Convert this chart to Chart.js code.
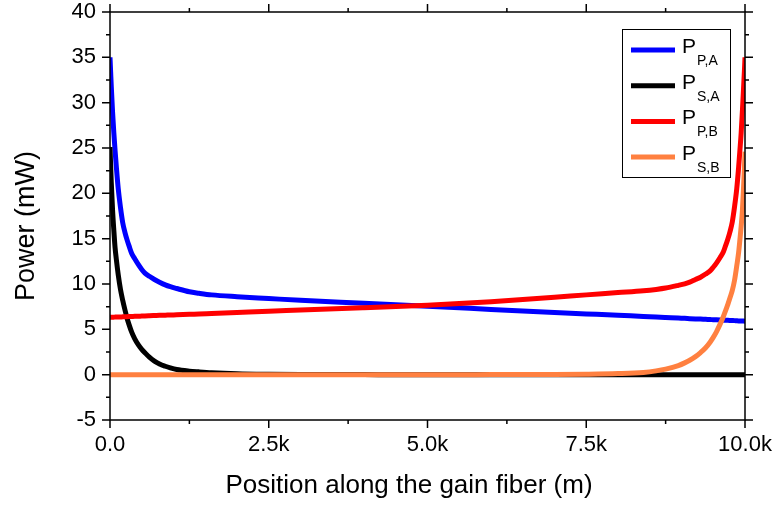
<html>
<body style="margin:0;background:#fff">
<script src="https://cdn.jsdelivr.net/npm/chart.js@4/dist/chart.umd.min.js"></script>
<canvas id="myChart" width="777" height="510"></canvas>
<script>
// positions along the fiber (m), dense at both ends
let pos = [0, 10, 20, 40, 60, 80, 100, 130, 165, 200,
           235, 270, 300, 340, 390, 450, 500, 550, 620, 700,
           780, 870, 950, 1050, 1250, 1400, 1600, 2000, 2500, 3000,
           4000, 5000, 6000, 7000, 7500, 8000, 8400, 8600, 8750, 8950,
           9050, 9130, 9220, 9300, 9380, 9450, 9500, 9550, 9610, 9660,
           9700, 9730, 9765, 9800, 9835, 9870, 9900, 9920, 9940, 9960,
           9980, 9990, 10000];
let ppA = [35, 33.4, 31.8, 29.0, 26.7, 24.7, 22.9, 20.5, 18.45, 16.77,
           15.7, 14.84, 14.2, 13.4, 12.78, 12.1, 11.6, 11.2, 10.85, 10.5,
           10.2, 9.9, 9.7, 9.5, 9.14, 8.98, 8.8, 8.6, 8.4, 8.2,
           7.88, 7.55, 7.2, 6.85, 6.7, 6.55, 6.42, 6.36, 6.31, 6.24,
           6.21, 6.18, 6.15, 6.13, 6.1, 6.08, 6.06, 6.05, 6.03, 6.01,
           6.0, 5.99, 5.98, 5.97, 5.96, 5.94, 5.93, 5.93, 5.92, 5.91,
           5.91, 5.9, 5.9];
let psA = [25.1, 23.1, 21.2, 18.2, 15.95, 14.0, 12.7, 11.0, 9.4, 8.2,
           7.16, 6.2, 5.52, 4.72, 3.95, 3.25, 2.8, 2.42, 1.93, 1.5,
           1.18, 0.93, 0.75, 0.57, 0.39, 0.31, 0.22, 0.11, 0.05, 0.02,
           0.005, 0, 0, 0, 0, 0, 0, 0, 0, 0,
           0, 0, 0, 0, 0, 0, 0, 0, 0, 0,
           0, 0, 0, 0, 0, 0, 0, 0, 0, 0,
           0, 0, 0];
let ppB = [6.33, 6.33, 6.33, 6.34, 6.34, 6.35, 6.35, 6.36, 6.36, 6.38,
           6.39, 6.4, 6.41, 6.42, 6.43, 6.45, 6.46, 6.48, 6.5, 6.52,
           6.54, 6.56, 6.58, 6.6, 6.65, 6.7, 6.75, 6.86, 7.0, 7.12,
           7.38, 7.65, 8.05, 8.55, 8.8, 9.05, 9.25, 9.4, 9.55, 9.85,
           10.02, 10.2, 10.5, 10.75, 11.1, 11.45, 11.85, 12.3, 12.95, 13.55,
           14.35, 14.95, 15.8, 16.85, 18.5, 20.5, 22.9, 24.75, 26.7, 29.2,
           32.0, 33.4, 35];
let psB = [0, 0, 0, 0, 0, 0, 0, 0, 0, 0,
           0, 0, 0, 0, 0, 0, 0, 0, 0, 0,
           0, 0, 0, 0, 0, 0, 0, 0, 0, 0,
           0, 0, 0.005, 0.02, 0.05, 0.12, 0.25, 0.42, 0.61, 1.0,
           1.3, 1.59, 1.99, 2.44, 2.97, 3.58, 4.11, 4.73, 5.6, 6.42,
           7.17, 7.75, 8.5, 9.3, 10.4, 12.0, 13.5, 14.9, 16.4, 18.2,
           21.1, 22.7, 24.6];
let subs = ['P,A', 'S,A', 'P,B', 'S,B'];
let colors = ['#0000ff', '#000000', '#ff0000', '#ff8040'];
let xTitle = 'Position along the gain fiber (m)';
let yTitle = 'Power (mW)';
let xMin = 0, xMax = 10000, xStep = 2500;
let yMin = -5, yMax = 40, yStep = 5;

const FONT = '"Liberation Sans", Arial, sans-serif';

function pts(vals) {
    return vals.map((v, i) => ({x: pos[i], y: v}));
}

const frame = {
    id: 'frame',
    afterDraw(chart) {
        const ctx = chart.ctx, a = chart.chartArea;
        const xs = chart.scales.x, ys = chart.scales.y;
        ctx.save();
        ctx.strokeStyle = '#000';
        ctx.lineWidth = 1.5;
        ctx.strokeRect(a.left, a.top, a.right - a.left, a.bottom - a.top);
        ctx.beginPath();
        for (let v = yMin; v <= yMax; v += yStep / 2) {
            const p = ys.getPixelForValue(v);
            const len = (v % yStep === 0) ? 8 : 4;
            ctx.moveTo(a.left - len, p); ctx.lineTo(a.left, p);
            ctx.moveTo(a.right, p); ctx.lineTo(a.right + len, p);
        }
        for (let v = xMin; v <= xMax; v += xStep / 2) {
            const p = xs.getPixelForValue(v);
            const len = (v % xStep === 0) ? 8 : 4;
            ctx.moveTo(p, a.bottom); ctx.lineTo(p, a.bottom + len);
            ctx.moveTo(p, a.top - len); ctx.lineTo(p, a.top);
        }
        ctx.stroke();

        // axis titles
        ctx.fillStyle = '#000';
        ctx.textAlign = 'center';
        ctx.textBaseline = 'alphabetic';
        ctx.font = '26px ' + FONT;
        ctx.fillText(xTitle, 409, 493);
        ctx.save();
        ctx.translate(34, 226);
        ctx.rotate(-Math.PI / 2);
        ctx.font = '27px ' + FONT;
        ctx.fillText(yTitle, 0, 0);
        ctx.restore();

        // legend with subscripts
        ctx.lineWidth = 1;
        ctx.strokeRect(622.5, 29.5, 108, 148);
        ctx.textAlign = 'left';
        chart.data.datasets.forEach((ds, i) => {
            const y = 50 + i * 35.7;
            ctx.strokeStyle = ds.borderColor;
            ctx.lineWidth = 5;
            ctx.beginPath();
            ctx.moveTo(631, y); ctx.lineTo(675, y);
            ctx.stroke();
            ctx.fillStyle = '#000';
            ctx.font = '21px ' + FONT;
            ctx.fillText('P', 682, y + 3);
            ctx.font = '14px ' + FONT;
            ctx.fillText(subs[i], 697, y + 15);
        });
        ctx.restore();
    }
};

function noPad(s) {
    s.paddingTop = 0; s.paddingBottom = 0; s.paddingLeft = 0; s.paddingRight = 0;
}

let ctx = document.getElementById('myChart').getContext('2d');
let myChart = new Chart(ctx, {
    type: 'line',
    data: {
        datasets: [
            {label: 'P_P,A', data: pts(ppA), borderColor: colors[0], order: 4},
            {label: 'P_S,A', data: pts(psA), borderColor: colors[1], order: 3},
            {label: 'P_P,B', data: pts(ppB), borderColor: colors[2], order: 2},
            {label: 'P_S,B', data: pts(psB), borderColor: colors[3], order: 1}
        ]
    },
    options: {
        responsive: false,
        animation: false,
        events: [],
        datasets: {
            line: {borderWidth: 5, pointRadius: 0, fill: false, cubicInterpolationMode: 'monotone'}
        },
        layout: {padding: {left: 0, top: 12, right: 32, bottom: 0}},
        plugins: {legend: {display: false}, tooltip: {enabled: false}},
        scales: {
            x: {
                type: 'linear', min: xMin, max: xMax,
                grid: {display: false, drawTicks: false},
                border: {display: false},
                afterFit: s => { s.height = 90; noPad(s); },
                ticks: {
                    stepSize: xStep, padding: 12, color: '#000', maxRotation: 0,
                    font: {family: FONT, size: 22},
                    callback: v => v === 0 ? '0.0' : (v / 1000).toFixed(1) + 'k'
                }
            },
            y: {
                min: yMin, max: yMax,
                grid: {display: false, drawTicks: false},
                border: {display: false},
                afterFit: s => { s.width = 110; noPad(s); },
                ticks: {
                    stepSize: yStep, padding: 14, color: '#000',
                    font: {family: FONT, size: 22}
                }
            }
        }
    },
    plugins: [frame]
});
</script>
</body>
</html>
